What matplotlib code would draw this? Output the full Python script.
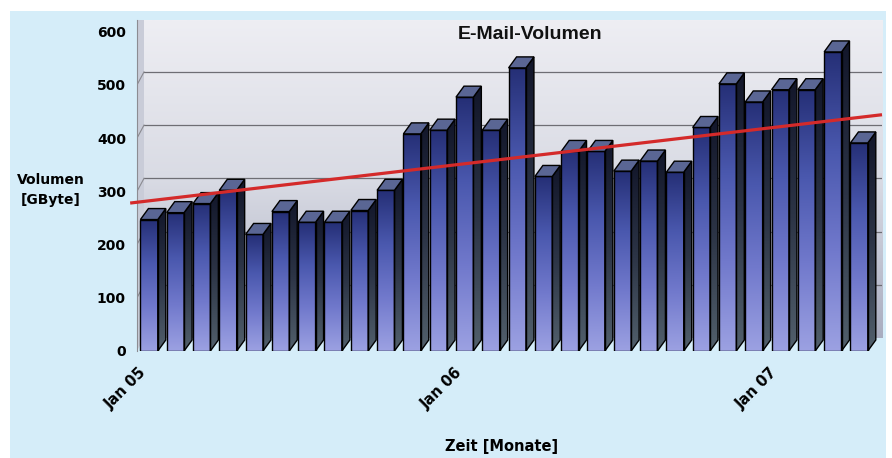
import numpy as np
import matplotlib.pyplot as plt
from matplotlib.colors import LinearSegmentedColormap
from matplotlib.patches import Polygon, Rectangle

# Monatswerte Jan 05 .. Apr 07 (GByte)
volumen = [247, 260, 277, 302, 219, 262, 242, 242, 264, 302, 408, 415,
           477, 415, 532, 328, 375, 375, 338, 357, 336, 420, 502, 468,
           491, 491, 562, 391]
tick_idx = [0, 12, 24]
tick_labels = ['Jan 05', 'Jan 06', 'Jan 07']
y_ticks = [0, 100, 200, 300, 400, 500, 600]
trend = [278, 444]  # Trendlinie links / rechts

plt.rcParams['font.family'] = ['DejaVu Sans']
plt.rcParams['font.weight'] = 'bold'

W, H = 892, 458
fig = plt.figure(figsize=(W / 100, H / 100), dpi=100)
fig.patch.set_facecolor('white')
# hellblauer Hintergrund
fig.patches.append(Rectangle((10 / W, 0), 876 / W, 447 / H, transform=fig.transFigure,
                             facecolor='#d5edf9', edgecolor='none', zorder=-5))

ax = fig.add_axes([137 / W, 1 - 351 / H, (882 - 137) / W, (351 - 20) / H])
ax.set_zorder(2)
ax.set_facecolor('none')
x_lo, x_hi = -0.46, 27.87
y_lo, y_hi = 0, 622
ppx = (882 - 137) / (x_hi - x_lo)   # pixel pro Monat
ppy = (351 - 20) / (y_hi - y_lo)    # pixel pro GByte

# Rueckwand mit Verlauf
wdx, wdy = 7 / ppx, 13 / ppy
wall_cm = LinearSegmentedColormap.from_list('wall', ['#a9adc0', '#d9dbe4', '#eeeef3'])
grad = np.linspace(0, 1, 256)[:, None]
ax.imshow(grad, extent=(x_lo + wdx, x_hi, wdy, y_hi), cmap=wall_cm, aspect='auto',
          origin='lower', zorder=0)
ax.add_patch(Polygon([(x_lo, 0), (x_lo + wdx, wdy), (x_lo + wdx, y_hi), (x_lo, y_hi)],
                     closed=True, facecolor='#c9ccd8', edgecolor='none', zorder=0.5))
for v in y_ticks[1:-1]:
    ax.plot([x_lo + wdx, x_hi], [v + wdy, v + wdy], color='#6e6e74', lw=0.9, zorder=1)
    ax.plot([x_lo, x_lo + wdx], [v, v + wdy], color='#8a8a90', lw=0.8, zorder=1)

# 3D-Saeulen
front_cm = LinearSegmentedColormap.from_list('front', ['#9ca1e2', '#7179cc', '#4a58ae', '#252f76'])
side_cm = LinearSegmentedColormap.from_list('side', ['#52606c', '#2c3446', '#12162a'])
w = 0.66
dx, dy = 8 / ppx, 11 / ppy
for i, v in enumerate(volumen):
    x0, x1 = i - w / 2, i + w / 2
    ax.imshow(grad, extent=(x0, x1, 0, v), cmap=front_cm, aspect='auto',
              origin='lower', zorder=3)
    ax.add_patch(Rectangle((x0, 0), w, v, facecolor='none', edgecolor='black',
                           lw=1, zorder=3.2))
    side = Polygon([(x1, 0), (x1 + dx, dy), (x1 + dx, v + dy), (x1, v)], closed=True,
                   facecolor='none', edgecolor='black', lw=1, zorder=3.2)
    im = ax.imshow(grad, extent=(x1, x1 + dx, 0, v + dy), cmap=side_cm, aspect='auto',
                   origin='lower', zorder=3)
    ax.add_patch(side)
    im.set_clip_path(side)
    ax.add_patch(Polygon([(x0, v), (x0 + dx, v + dy), (x1 + dx, v + dy), (x1, v)],
                         closed=True, facecolor='#5a6694', edgecolor='black',
                         lw=1, zorder=3.3))

# lineare Trendlinie
ax.plot([-0.72, x_hi], trend, color='#d42a2a', lw=2.3, zorder=5, clip_on=False,
        solid_capstyle='butt')

ax.set_xlim(x_lo, x_hi)
ax.set_ylim(y_lo, y_hi)
ax.set_yticks(y_ticks)
ax.set_yticklabels([str(t) for t in y_ticks], fontsize=10, fontweight='bold')
ax.set_xticks(np.array(tick_idx) - 0.2)
ax.set_xticklabels(tick_labels, rotation=45, ha='right', va='center',
                   rotation_mode='anchor', fontsize=10.5, fontweight='bold')
ax.tick_params(axis='y', length=0, pad=8)
ax.tick_params(axis='x', length=0, pad=14)
for s in ['top', 'right', 'bottom']:
    ax.spines[s].set_visible(False)
ax.spines['left'].set_color('#8c8c92')
ax.spines['left'].set_linewidth(0.8)

ax.text(0.527, 0.955, 'E-Mail-Volumen', transform=ax.transAxes, ha='center', va='center',
        fontsize=14, fontweight='bold', color='#111111', zorder=6,
        family=['Liberation Sans', 'DejaVu Sans'])
fig.text(51 / W, 1 - 190 / H, 'Volumen\n[GByte]', ha='center', va='center',
         fontsize=10, fontweight='bold', linespacing=1.5)
fig.text(502 / W, 1 - 447 / H, 'Zeit [Monate]', ha='center', va='center',
         fontsize=10.5, fontweight='bold')

fig.savefig('out.png', dpi=100)
